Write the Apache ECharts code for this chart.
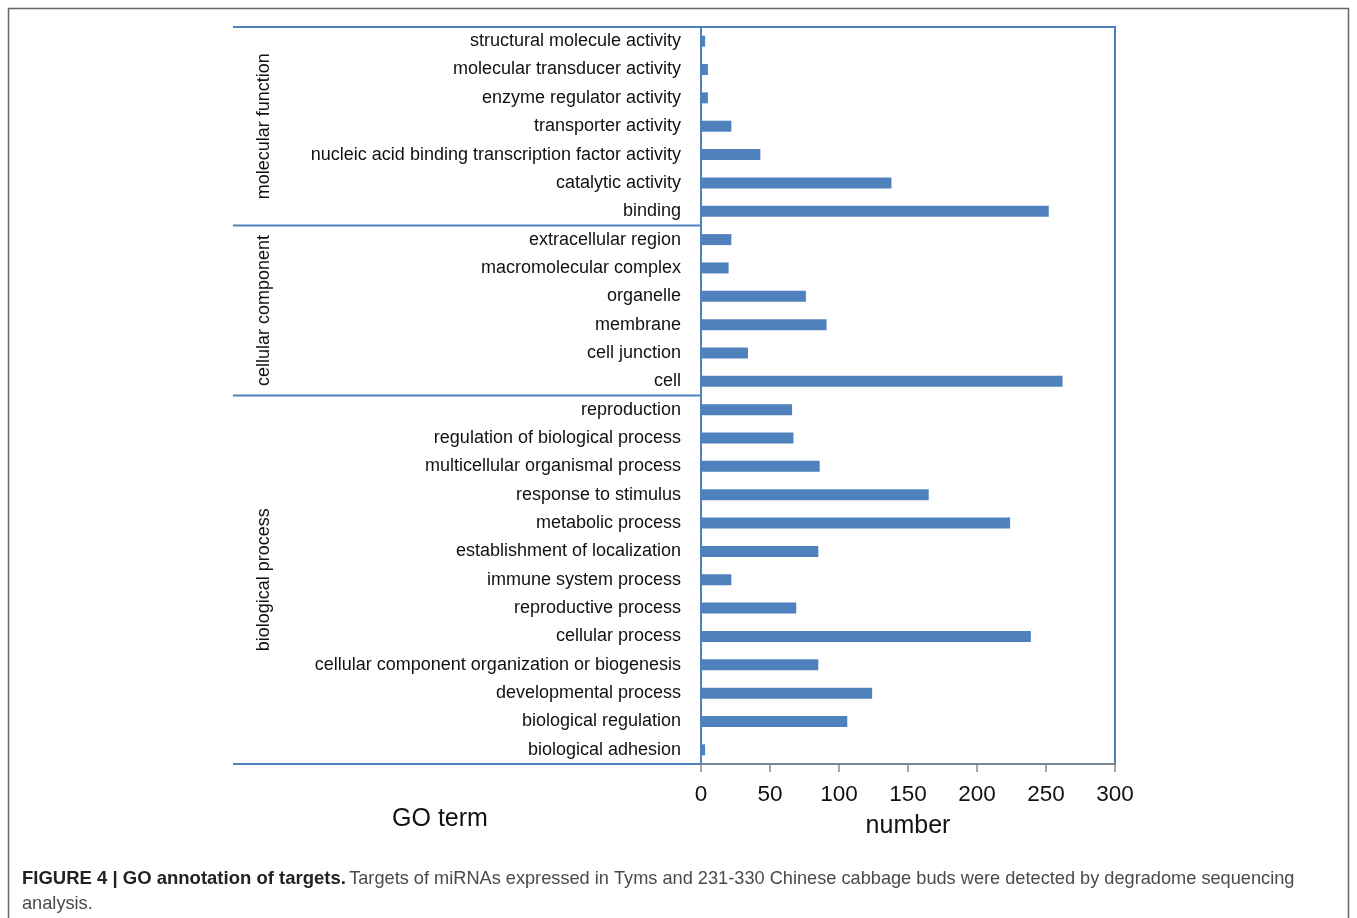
<!DOCTYPE html>
<html>
<head>
<meta charset="utf-8">
<script src="https://cdn.jsdelivr.net/npm/echarts@6/dist/echarts.min.js"></script>
<style>
  html, body { margin: 0; padding: 0; background: #fff; }
  #chart { width: 1357px; height: 918px; }
</style>
</head>
<body>
<div id="chart"></div>
<script>
// GO terms, top to bottom
const categories = [
  'structural molecule activity',
  'molecular transducer activity',
  'enzyme regulator activity',
  'transporter activity',
  'nucleic acid binding transcription factor activity',
  'catalytic activity',
  'binding',
  'extracellular region',
  'macromolecular complex',
  'organelle',
  'membrane',
  'cell junction',
  'cell',
  'reproduction',
  'regulation of biological process',
  'multicellular organismal process',
  'response to stimulus',
  'metabolic process',
  'establishment of localization',
  'immune system process',
  'reproductive process',
  'cellular process',
  'cellular component organization or biogenesis',
  'developmental process',
  'biological regulation',
  'biological adhesion'
];

// number of targets per term
const counts = [
  3, 5, 5, 22, 43, 138, 252,
  22, 20, 76, 91, 34, 262,
  66, 67, 86, 165, 224, 85, 22, 69, 239, 85, 124, 106, 3
];

// GO categories: name and number of terms in each, top to bottom
const groupNames = ['molecular function', 'cellular component', 'biological process'];
const groupSizes = [7, 6, 13];

const xTicks = { min: 0, max: 300, interval: 50 };

const BLUE = '#4F81BD';
const FONT = '"Liberation Sans", Arial, sans-serif';

const chart = echarts.init(document.getElementById('chart'));

chart.setOption({
  animation: false,
  backgroundColor: '#fff',
  grid: {
    left: 701, right: 242, top: 27, bottom: 154,
    show: true, borderColor: BLUE, borderWidth: 2, backgroundColor: 'transparent'
  },
  xAxis: {
    type: 'value',
    min: xTicks.min, max: xTicks.max, interval: xTicks.interval,
    splitLine: { show: false },
    axisLine: { show: true, lineStyle: { color: '#8a8a8a', width: 1.5 } },
    axisTick: { show: true, length: 8, lineStyle: { color: '#8a8a8a', width: 1.5 } },
    axisLabel: { fontFamily: FONT, fontSize: 22.5, color: '#111', margin: 19 },
    name: 'number',
    nameLocation: 'middle',
    nameGap: 50,
    nameTextStyle: { fontFamily: FONT, fontSize: 25, color: '#111' }
  },
  yAxis: {
    type: 'category',
    data: categories,
    inverse: true,
    axisLine: { show: true, lineStyle: { color: BLUE, width: 2 } },
    axisTick: { show: false },
    axisLabel: { fontFamily: FONT, fontSize: 18, color: '#111', margin: 20, padding: [5, 0, 0, 0] }
  },
  series: [{
    type: 'bar',
    data: counts,
    barWidth: 11,
    itemStyle: { color: BLUE },
    silent: true
  }]
});

// Group separators, top rule and rotated group names, positioned from the category scale
function drawGroups() {
  const leftX = 233;
  const axisX = chart.convertToPixel({ xAxisIndex: 0 }, 0);
  const step = chart.convertToPixel({ yAxisIndex: 0 }, 1) - chart.convertToPixel({ yAxisIndex: 0 }, 0);
  const edge = i => chart.convertToPixel({ yAxisIndex: 0 }, i) - step / 2;

  const elements = [];
  let start = 0;
  const lineAt = y => ({
    type: 'line',
    shape: { x1: leftX, y1: y, x2: axisX, y2: y },
    style: { stroke: BLUE, lineWidth: 2 },
    silent: true
  });
  elements.push(lineAt(edge(0)));
  groupSizes.forEach((n, gi) => {
    const top = edge(start);
    const bottom = edge(start + n);
    elements.push(lineAt(bottom));
    elements.push({
      type: 'text',
      x: 264, y: (top + bottom) / 2,
      rotation: Math.PI / 2,
      style: {
        text: groupNames[gi],
        font: '18px ' + FONT,
        fill: '#111',
        align: 'center',
        verticalAlign: 'middle'
      },
      silent: true
    });
    start += n;
  });

  // axis title of the term column
  elements.push({
    type: 'text', x: 440, y: 819,
    style: { text: 'GO term', font: '25px ' + FONT, fill: '#111', align: 'center', verticalAlign: 'middle' },
    silent: true
  });

  // outer figure frame (open at the bottom)
  elements.push({
    type: 'polyline',
    shape: { points: [[8.5, 918], [8.5, 8.5], [1348.5, 8.5], [1348.5, 918]] },
    style: { stroke: '#666', lineWidth: 1.5, fill: null },
    silent: true
  });

  // figure caption
  elements.push({
    type: 'text', x: 22, y: 866,
    style: {
      text: '{b|FIGURE 4 | GO annotation of targets.} {n|Targets of miRNAs expressed in Tyms and 231-330 Chinese cabbage buds were detected by degradome sequencing}\n{n|analysis.}',
      rich: {
        b: { fontFamily: FONT, fontSize: 18.5, fontWeight: 'bold', fill: '#222', lineHeight: 25 },
        n: { fontFamily: FONT, fontSize: 18.2, fill: '#4a4a4a', lineHeight: 25 }
      },
      align: 'left',
      verticalAlign: 'top'
    },
    silent: true
  });

  chart.setOption({ graphic: { elements } });
}

drawGroups();
</script>
</body>
</html>
